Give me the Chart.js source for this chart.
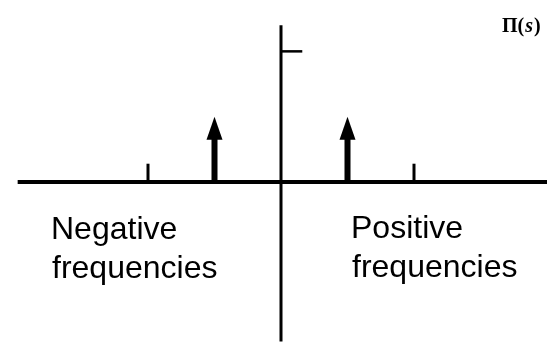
<!DOCTYPE html>
<html lang="en">
<head>
<meta charset="UTF-8">
<title>Π(s)</title>
<script src="https://cdn.jsdelivr.net/npm/chart.js"></script>
<style>
    html, body { margin: 0; padding: 0; background: #fff; }
    .grafico { width: 556px; height: 344px; }
</style>
</head>
<body>
<div class="grafico"><canvas id="espectro"></canvas></div>
<script>
    // eixo s e eixo vertical
    const axisX = [-1.98, 2];
    const axisY = [-1.22, 1.2];
    // impulsos em ±1/2 com peso 1/2
    const impulsePos = [-0.5, 0.5];
    const impulseHeight = [0.5, 0.5];
    // marcas em s = ±1
    const tickPos = [-1, 1];
    const tickHeight = 0.14;
    // marca do valor 1 no eixo vertical
    const peakValue = 1;
    const peakTick = 0.16;

    const preto = '#000';

    function segmento(pontos, largura) {
        return {
            data: pontos,
            showLine: true,
            borderColor: preto,
            borderWidth: largura,
            pointRadius: 0,
            borderCapStyle: 'butt'
        };
    }

    const datasets = [
        segmento(axisX.map(x => ({ x: x, y: 0 })), 4),
        segmento(axisY.map(y => ({ x: 0, y: y })), 3),
        segmento([{ x: 0, y: peakValue }, { x: peakTick, y: peakValue }], 2.5),
        ...tickPos.map(t => segmento([{ x: t, y: 0 }, { x: t, y: tickHeight }], 3))
    ];

    // setas dos impulsos (haste + ponta)
    const setas = {
        id: 'setas',
        afterDatasetsDraw(chart) {
            const ctx = chart.ctx;
            const sx = chart.scales.x, sy = chart.scales.y;
            const pontaAlt = 23, pontaLarg = 16, haste = 6;
            ctx.save();
            ctx.fillStyle = preto;
            impulsePos.forEach((p, i) => {
                const px = sx.getPixelForValue(p);
                const y0 = sy.getPixelForValue(0);
                const y1 = sy.getPixelForValue(impulseHeight[i]);
                ctx.fillRect(px - haste / 2, y1 + pontaAlt - 1, haste, y0 - y1 - pontaAlt + 1);
                ctx.beginPath();
                ctx.moveTo(px, y1);
                ctx.lineTo(px + pontaLarg / 2, y1 + pontaAlt);
                ctx.lineTo(px - pontaLarg / 2, y1 + pontaAlt);
                ctx.closePath();
                ctx.fill();
            });
            ctx.restore();
        }
    };

    // textos
    const textos = {
        id: 'textos',
        afterDraw(chart) {
            const ctx = chart.ctx;
            ctx.save();
            ctx.fillStyle = preto;
            ctx.textBaseline = 'alphabetic';
            ctx.font = '32px "Liberation Sans", Arial, sans-serif';
            ctx.fillText('Negative', 51, 239);
            ctx.fillText('frequencies', 52, 278);
            ctx.fillText('Positive', 351, 238);
            ctx.fillText('frequencies', 352, 277);

            // rótulo Π(s)
            const serif = '"Liberation Serif", "DejaVu Serif", serif';
            let x = 502;
            const base = 32;
            ctx.font = 'bold 20px ' + serif;
            ctx.fillText('Π(', x, base);
            x += ctx.measureText('Π(').width + 1;
            ctx.font = 'bold italic 20px ' + serif;
            ctx.fillText('s', x, base);
            x += ctx.measureText('s').width + 1;
            ctx.font = 'bold 20px ' + serif;
            ctx.fillText(')', x, base);
            ctx.restore();
        }
    };

    new Chart(document.getElementById('espectro'), {
        type: 'scatter',
        data: { datasets: datasets },
        options: {
            responsive: true,
            maintainAspectRatio: false,
            animation: false,
            layout: { padding: { left: 15, right: 9, top: 20, bottom: 0 } },
            plugins: { legend: { display: false }, tooltip: { enabled: false } },
            scales: {
                x: { type: 'linear', min: -2, max: 2, display: false },
                y: { type: 'linear', min: -1.24, max: 1.24, display: false }
            }
        },
        plugins: [setas, textos]
    });
</script>
</body>
</html>
